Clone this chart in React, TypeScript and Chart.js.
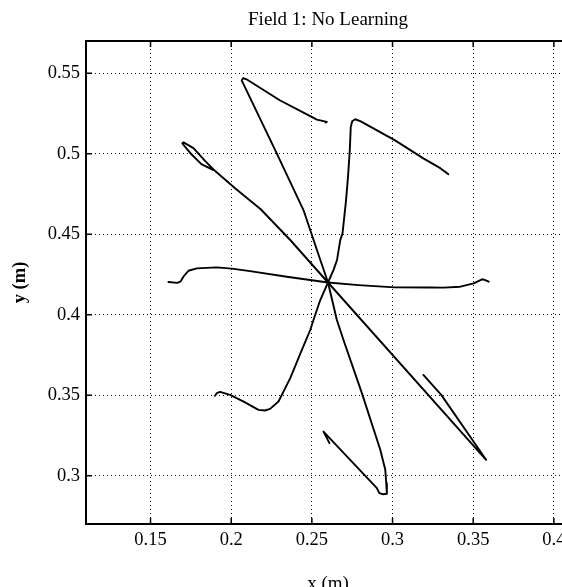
import React, { useEffect, useRef } from "react";
import { Chart, registerables } from "chart.js";

Chart.register(...registerables);

const titleText = "Field 1: No Learning";
const xLabel = "x (m)";
const yLabel = "y (m)";
const xMin = 0.11;
const xMax = 0.41;
const yMin = 0.27;
const yMax = 0.57;
const xTicks = [0.15, 0.2, 0.25, 0.3, 0.35, 0.4];
const yTicks = [0.3, 0.35, 0.4, 0.45, 0.5, 0.55];

// Hand trajectories (x, y) in metres, from the centre outward
const reachUp = [
  [0.26, 0.42], [0.2532, 0.44], [0.2448, 0.465], [0.2283, 0.5],
  [0.2065, 0.5455], [0.2075, 0.547], [0.2095, 0.5462], [0.2301, 0.5332],
  [0.2457, 0.525], [0.2531, 0.5212], [0.2593, 0.5198], [0.2585, 0.5194],
];
const reachUpRight = [
  [0.26, 0.42], [0.2635, 0.428], [0.2656, 0.434], [0.2676, 0.4463], [0.269, 0.4505],
  [0.2712, 0.4712], [0.2725, 0.487], [0.2735, 0.5022], [0.2741, 0.5165], [0.275, 0.5202],
  [0.2768, 0.5214], [0.28, 0.5202], [0.3013, 0.5084], [0.3191, 0.4971], [0.3296, 0.491],
  [0.3346, 0.4873], [0.332, 0.4893],
];
const reachUpLeft = [
  [0.26, 0.42], [0.2366, 0.4464], [0.2183, 0.4655], [0.2024, 0.4785], [0.189, 0.4902],
  [0.1838, 0.4955], [0.1766, 0.5035], [0.1705, 0.507], [0.1697, 0.5065], [0.1712, 0.5045],
  [0.1755, 0.4995], [0.1815, 0.4935], [0.189, 0.4898],
];
const reachLeft = [
  [0.26, 0.42], [0.2345, 0.4236], [0.2117, 0.4271], [0.2004, 0.4286], [0.1911, 0.4294],
  [0.1787, 0.4288], [0.1735, 0.4273], [0.1704, 0.4236], [0.1685, 0.4205], [0.1665, 0.4198],
  [0.1611, 0.4203],
];
const reachRight = [
  [0.26, 0.42], [0.279, 0.4184], [0.3013, 0.417], [0.3234, 0.4169], [0.3317, 0.4168],
  [0.342, 0.4174], [0.3503, 0.4195], [0.3555, 0.422], [0.3575, 0.4215], [0.3596, 0.4205],
];
const reachDownLeft = [
  [0.26, 0.42], [0.2552, 0.4091], [0.251, 0.3967], [0.249, 0.3905], [0.2438, 0.3781],
  [0.2366, 0.3606], [0.2293, 0.3461], [0.2241, 0.3415], [0.221, 0.3405], [0.2169, 0.3409],
  [0.208, 0.3459], [0.1993, 0.3502], [0.1931, 0.3521], [0.1911, 0.3513], [0.19, 0.3496],
];
const reachDown = [
  [0.26, 0.42], [0.2655, 0.3967], [0.2696, 0.3843], [0.281, 0.3513], [0.2924, 0.3161],
  [0.2955, 0.3037], [0.2961, 0.2954], [0.2965, 0.2888], [0.2942, 0.2885], [0.2918, 0.2892],
  [0.2903, 0.2923], [0.2572, 0.3274], [0.2609, 0.3202],
];
const reachDownRight = [
  [0.26, 0.42], [0.358, 0.3099], [0.3302, 0.3502], [0.3191, 0.3626],
];

const trajectories = [
  reachUp, reachUpRight, reachUpLeft, reachLeft,
  reachRight, reachDownLeft, reachDown, reachDownRight,
];

const FONT = "'Liberation Serif', 'Times New Roman', Times, serif";

const fmt = (v: number) => String(+Number(v).toFixed(2));

const framePlugin = {
  id: "frame",
  afterDraw(chart: any) {
    const { ctx, chartArea, scales } = chart;
    const { left, right, top, bottom } = chartArea;
    ctx.save();
    ctx.strokeStyle = "#000";
    ctx.lineWidth = 2;
    ctx.beginPath();
    ctx.moveTo(left - 1, top);
    ctx.lineTo(right + 1, top);
    ctx.moveTo(right, top);
    ctx.lineTo(right, bottom);
    ctx.stroke();
    ctx.lineWidth = 1.5;
    ctx.beginPath();
    for (const v of xTicks) {
      const px = scales.x.getPixelForValue(v);
      ctx.moveTo(px, bottom);
      ctx.lineTo(px, bottom - 6);
      ctx.moveTo(px, top);
      ctx.lineTo(px, top + 6);
    }
    for (const v of yTicks) {
      const py = scales.y.getPixelForValue(v);
      ctx.moveTo(left, py);
      ctx.lineTo(left + 6, py);
      ctx.moveTo(right, py);
      ctx.lineTo(right - 6, py);
    }
    ctx.stroke();
    ctx.restore();
  },
};

export default function App() {
  const ref = useRef<HTMLCanvasElement>(null);
  useEffect(() => {
    const chart = new Chart(ref.current!, {
      type: "scatter",
      data: {
        datasets: trajectories.map((t) => ({
          data: t.map(([x, y]) => ({ x, y })),
          showLine: true,
          borderColor: "#000",
          borderWidth: 1.9,
          borderJoinStyle: "round",
          borderCapStyle: "round",
          pointRadius: 0,
          fill: false,
          tension: 0,
        })),
      },
      options: {
        animation: false,
        responsive: true,
        maintainAspectRatio: false,
        layout: { padding: { left: 0, right: 5, top: 0, bottom: 0 } },
        plugins: {
          legend: { display: false },
          tooltip: { enabled: false },
          title: {
            display: true,
            text: titleText,
            fullSize: false,
            color: "#000",
            font: { family: FONT, size: 19, weight: "normal" },
            padding: { top: 8.6, bottom: 9.6 },
          },
        },
        scales: {
          x: {
            type: "linear",
            position: "bottom",
            min: xMin,
            max: xMax,
            afterBuildTicks: (s: any) => {
              s.ticks = xTicks.map((v) => ({ value: v }));
            },
            afterFit: (s: any) => {
              s.height = 76;
            },
            ticks: {
              color: "#000",
              font: { family: FONT, size: 18.5 },
              padding: 5,
              maxRotation: 0,
              autoSkip: false,
              callback: (v: any) => fmt(v),
            },
            grid: { color: "#111", lineWidth: 1, drawTicks: false },
            border: { display: true, color: "#000", width: 2, dash: [1, 3] },
            title: {
              display: true,
              text: xLabel,
              color: "#000",
              font: { family: FONT, size: 19, weight: "normal" },
              padding: { top: 0, bottom: 4.5 },
            },
          },
          y: {
            type: "linear",
            position: "left",
            min: yMin,
            max: yMax,
            afterBuildTicks: (s: any) => {
              s.ticks = yTicks.map((v) => ({ value: v }));
            },
            afterFit: (s: any) => {
              s.width = 86;
            },
            ticks: {
              color: "#000",
              font: { family: FONT, size: 18.5 },
              padding: 6,
              autoSkip: false,
              callback: (v: any) => fmt(v),
            },
            grid: { color: "#111", lineWidth: 1, drawTicks: false },
            border: { display: true, color: "#000", width: 2, dash: [1, 3] },
            title: {
              display: true,
              text: yLabel,
              color: "#000",
              font: { family: FONT, size: 18.5, weight: "bold" },
              padding: { top: 9.5, bottom: 0 },
            },
          },
        },
      },
      plugins: [framePlugin],
    } as any);
    return () => chart.destroy();
  }, []);

  return (
    <div
      style={{
        position: "absolute",
        left: 0,
        top: 0,
        width: 562,
        height: 587,
        overflow: "hidden",
        background: "#fff",
      }}
    >
      <div style={{ position: "relative", width: 575, height: 600 }}>
        <canvas ref={ref} />
      </div>
    </div>
  );
}
